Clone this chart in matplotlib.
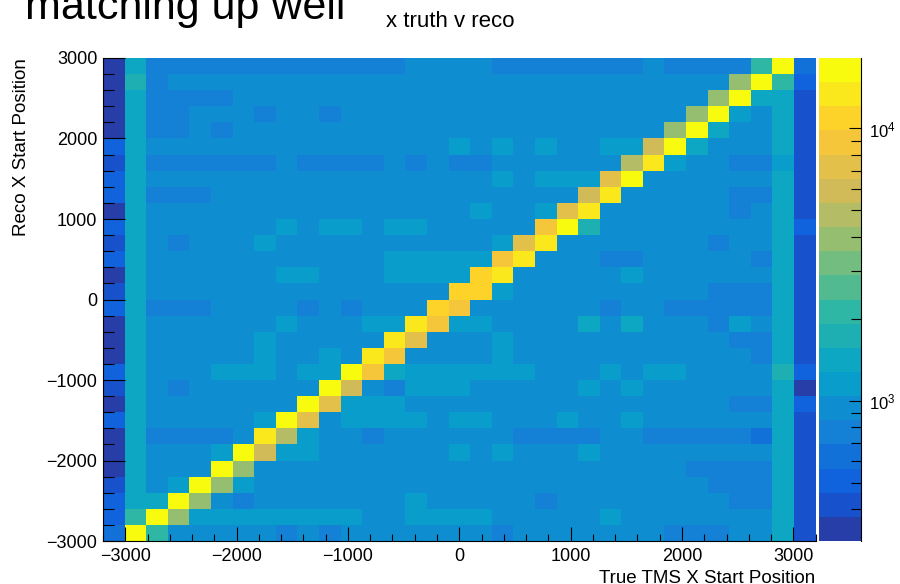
import matplotlib
matplotlib.use("Agg")
import matplotlib.pyplot as plt
import numpy as np
from matplotlib.colors import LinearSegmentedColormap, ListedColormap, LogNorm
from matplotlib.ticker import LogLocator, MultipleLocator, NullFormatter


# histogram binning: true x along the columns, reco x along the rows
X_RANGE = (-3200, 3200)
N_X_BINS = 33
Y_RANGE = (-3000, 3000)
N_Y_BINS = 30

Z_RANGE = (306, 18140)
N_CONTOURS = 20

X_TICKS = [-3000, -2000, -1000, 0, 1000, 2000, 3000]
Y_TICKS = [-3000, -2000, -1000, 0, 1000, 2000, 3000]

# entries per bin, rows from reco x = +3000 down to -3000,
# each row holds the 33 true-x bins from -3200 to +3200
COUNTS = [
    [340, 1420, 770, 770, 770, 770, 770, 770, 770, 770, 770,
     770, 770, 770, 940, 940, 940, 940, 770, 770, 770, 770,
     770, 770, 770, 940, 770, 770, 770, 770, 2140, 16600, 630],
    [340, 1740, 770, 940, 940, 940, 940, 940, 940, 940, 940,
     940, 940, 940, 940, 940, 940, 940, 940, 940, 940, 940,
     940, 940, 940, 940, 940, 940, 940, 3960, 16600, 2140, 510],
    [340, 1420, 770, 770, 770, 770, 940, 940, 940, 940, 940,
     940, 940, 940, 940, 940, 940, 940, 940, 940, 940, 940,
     940, 940, 940, 940, 940, 940, 3960, 16600, 1420, 1420, 420],
    [340, 1420, 770, 770, 940, 940, 940, 770, 940, 940, 770,
     940, 940, 940, 940, 940, 940, 940, 940, 940, 940, 940,
     940, 940, 940, 940, 940, 3960, 16600, 1160, 940, 1420, 420],
    [340, 1420, 770, 770, 940, 770, 940, 940, 940, 940, 940,
     940, 940, 940, 940, 940, 940, 940, 940, 940, 940, 940,
     940, 940, 940, 940, 3960, 16600, 1420, 940, 940, 1420, 420],
    [510, 1420, 940, 940, 940, 940, 940, 940, 940, 940, 940,
     940, 940, 940, 940, 940, 1160, 940, 1160, 940, 1160, 940,
     940, 1160, 1160, 5960, 16600, 1420, 940, 940, 940, 1420, 420],
    [420, 1420, 770, 770, 770, 770, 770, 770, 940, 770, 770,
     770, 770, 940, 770, 940, 770, 770, 940, 940, 940, 940,
     940, 940, 4860, 13500, 1160, 940, 940, 770, 770, 1160, 420],
    [510, 1420, 940, 940, 940, 940, 940, 940, 940, 940, 940,
     940, 940, 940, 940, 940, 940, 940, 1160, 940, 1160, 1160,
     1160, 7320, 16600, 940, 940, 940, 940, 940, 940, 1420, 420],
    [510, 1420, 770, 770, 770, 940, 940, 940, 940, 940, 940,
     940, 940, 940, 940, 940, 940, 940, 940, 940, 940, 940,
     5960, 13500, 940, 940, 940, 940, 940, 770, 770, 1420, 420],
    [340, 1420, 940, 940, 940, 940, 940, 940, 940, 940, 940,
     940, 940, 940, 940, 940, 940, 1160, 940, 940, 1160, 7320,
     13500, 940, 940, 940, 940, 940, 940, 770, 940, 1420, 420],
    [510, 1420, 940, 940, 940, 940, 940, 940, 1160, 940, 1160,
     1160, 940, 1160, 1160, 940, 940, 940, 940, 940, 8980, 16600,
     1740, 940, 940, 940, 940, 940, 940, 940, 940, 1420, 510],
    [420, 1420, 940, 770, 940, 940, 940, 1160, 940, 940, 940,
     940, 940, 940, 940, 940, 940, 940, 1160, 7320, 13500, 940,
     940, 940, 940, 940, 940, 940, 770, 940, 940, 1420, 420],
    [510, 1420, 940, 940, 940, 940, 940, 940, 940, 940, 940,
     940, 940, 1160, 1160, 1160, 1160, 1160, 8980, 13500, 940, 940,
     940, 770, 770, 940, 940, 940, 940, 940, 770, 1420, 420],
    [340, 1420, 940, 940, 940, 940, 940, 940, 1160, 1160, 940,
     940, 940, 1160, 1160, 1160, 1160, 11000, 13500, 940, 940, 940,
     940, 940, 1160, 940, 940, 940, 940, 940, 940, 1420, 420],
    [420, 1420, 940, 940, 940, 940, 940, 940, 940, 940, 940,
     940, 940, 940, 940, 940, 11000, 11000, 1160, 940, 940, 940,
     940, 940, 940, 940, 940, 940, 770, 770, 770, 1420, 420],
    [510, 1420, 770, 770, 770, 940, 940, 940, 940, 770, 940,
     770, 940, 940, 940, 11000, 8980, 940, 940, 940, 940, 940,
     940, 770, 940, 940, 770, 770, 770, 770, 770, 1420, 420],
    [340, 1420, 940, 940, 940, 940, 940, 940, 1160, 940, 940,
     940, 1160, 1160, 13500, 8980, 1160, 1160, 940, 940, 940, 940,
     1420, 940, 1420, 940, 940, 940, 770, 1160, 940, 1420, 420],
    [340, 1420, 940, 940, 940, 940, 940, 1160, 940, 940, 940,
     940, 940, 13500, 7320, 940, 940, 940, 1160, 940, 940, 940,
     940, 940, 940, 940, 940, 940, 940, 770, 770, 1420, 420],
    [340, 1420, 940, 940, 940, 940, 940, 1160, 940, 940, 1160,
     940, 13500, 8980, 940, 940, 940, 940, 1160, 940, 940, 940,
     940, 940, 940, 940, 940, 940, 940, 940, 770, 1420, 420],
    [510, 1420, 940, 940, 940, 1160, 1160, 1160, 940, 1160, 1160,
     16600, 8980, 1420, 1160, 1160, 1160, 1160, 1160, 1160, 940, 940,
     940, 1160, 940, 1160, 1160, 940, 940, 940, 940, 1740, 510],
    [420, 1420, 940, 770, 940, 940, 940, 940, 940, 940, 16600,
     5960, 940, 770, 1160, 1160, 1160, 940, 940, 940, 940, 940,
     1160, 940, 1160, 940, 940, 940, 940, 940, 940, 1420, 340],
    [340, 1420, 940, 940, 940, 940, 940, 940, 940, 16600, 7320,
     1160, 1160, 1160, 940, 940, 940, 940, 940, 940, 940, 940,
     940, 940, 940, 940, 940, 940, 940, 770, 770, 1420, 510],
    [510, 1420, 940, 940, 940, 940, 940, 1160, 16600, 7320, 940,
     1160, 1160, 1160, 1160, 940, 1160, 1160, 940, 940, 940, 1160,
     940, 940, 1160, 940, 940, 940, 940, 940, 940, 1420, 420],
    [340, 1420, 770, 770, 770, 770, 940, 13500, 4860, 1160, 940,
     940, 770, 940, 940, 940, 940, 940, 940, 770, 770, 770,
     770, 940, 940, 770, 770, 770, 770, 770, 630, 1420, 420],
    [340, 1420, 940, 940, 940, 1160, 16600, 5960, 1160, 1160, 940,
     940, 940, 940, 940, 940, 1160, 940, 1160, 940, 940, 940,
     1160, 940, 940, 940, 940, 940, 940, 940, 940, 1420, 420],
    [340, 1420, 940, 940, 940, 16600, 3960, 940, 940, 940, 940,
     940, 940, 940, 940, 940, 940, 940, 940, 940, 940, 940,
     940, 940, 940, 940, 940, 770, 770, 770, 770, 1420, 420],
    [420, 1420, 940, 1160, 16600, 3960, 1160, 940, 940, 940, 940,
     940, 940, 940, 940, 940, 940, 940, 940, 940, 940, 940,
     940, 940, 940, 940, 940, 940, 770, 770, 770, 1420, 420],
    [510, 1420, 1420, 16600, 3960, 940, 770, 940, 940, 940, 940,
     940, 940, 940, 1160, 940, 940, 940, 940, 940, 770, 940,
     940, 940, 940, 940, 940, 940, 940, 770, 770, 1420, 420],
    [510, 2140, 16600, 3960, 1160, 1160, 1160, 1160, 1160, 1160, 1160,
     1160, 940, 940, 1160, 1160, 1160, 1160, 940, 940, 940, 940,
     940, 1160, 940, 940, 940, 940, 940, 940, 940, 1420, 420],
    [630, 16600, 2140, 940, 940, 940, 940, 940, 770, 940, 770,
     940, 940, 940, 940, 940, 940, 940, 770, 940, 940, 940,
     940, 940, 940, 940, 770, 770, 770, 940, 940, 1420, 420],
]

# ROOT kBird palette
BIRD_STOPS = [0.0000, 0.1250, 0.2500, 0.3750, 0.5000, 0.6250, 0.7500, 0.8750, 1.0000]
BIRD_RED = [0.2082, 0.0592, 0.0780, 0.0232, 0.1802, 0.5301, 0.8186, 0.9956, 0.9764]
BIRD_GREEN = [0.1664, 0.3599, 0.5041, 0.6419, 0.7178, 0.7492, 0.7328, 0.7862, 0.9832]
BIRD_BLUE = [0.5293, 0.8684, 0.8385, 0.7914, 0.6425, 0.4662, 0.3499, 0.1968, 0.0539]


def bird_contours(n_levels):
    cdict = {
        "red": [(s, v, v) for s, v in zip(BIRD_STOPS, BIRD_RED)],
        "green": [(s, v, v) for s, v in zip(BIRD_STOPS, BIRD_GREEN)],
        "blue": [(s, v, v) for s, v in zip(BIRD_STOPS, BIRD_BLUE)],
    }
    base = LinearSegmentedColormap("bird", cdict, N=255)
    # one palette colour per contour band, picked the way THistPainter does
    picks = [min(int((i + 0.99) * 255 / n_levels), 254) for i in range(n_levels)]
    return ListedColormap([base(k) for k in picks])


def main() -> None:
    plt.rcParams["font.family"] = ["Liberation Sans", "DejaVu Sans"]
    plt.rcParams["mathtext.default"] = "regular"

    z = np.flipud(np.array(COUNTS, dtype=float))
    assert z.shape == (N_Y_BINS, N_X_BINS)
    x_edges = np.linspace(X_RANGE[0], X_RANGE[1], N_X_BINS + 1)
    y_edges = np.linspace(Y_RANGE[0], Y_RANGE[1], N_Y_BINS + 1)

    fig = plt.figure(figsize=(9, 5.84), dpi=100)
    ax = fig.add_axes([0.1144, 0.0736, 0.7919, 0.8271])
    cax = fig.add_axes([0.91, 0.0736, 0.0463, 0.8271])

    mesh = ax.pcolormesh(
        x_edges, y_edges, z,
        cmap=bird_contours(N_CONTOURS),
        norm=LogNorm(vmin=Z_RANGE[0], vmax=Z_RANGE[1]),
        shading="flat",
    )
    ax.set_xlim(*X_RANGE)
    ax.set_ylim(*Y_RANGE)
    ax.set_axisbelow(False)

    for side in ("top", "right"):
        ax.spines[side].set_visible(False)
    for side in ("left", "bottom"):
        ax.spines[side].set_linewidth(0.8)

    ax.set_xticks(X_TICKS)
    ax.set_yticks(Y_TICKS)
    ax.xaxis.set_minor_locator(MultipleLocator(200))
    ax.yaxis.set_minor_locator(MultipleLocator(200))
    ax.tick_params(axis="x", which="major", direction="in", length=10, width=0.8,
                   labelsize=13, pad=5)
    ax.tick_params(axis="x", which="minor", direction="in", length=5, width=0.8)
    ax.tick_params(axis="y", which="major", direction="in", length=16, width=0.8,
                   labelsize=13, pad=4)
    ax.tick_params(axis="y", which="minor", direction="in", length=8, width=0.8)

    ax.set_xlabel("True TMS X Start Position", fontsize=13.5, loc="right")
    ax.xaxis.set_label_coords(1.0, -0.087)
    ax.xaxis.label.set_va("baseline")
    ax.set_ylabel("Reco X Start Position", fontsize=13.5, loc="top")
    ax.yaxis.set_label_coords(-0.114, 1.0)
    ax.yaxis.label.set_va("center")

    cbar = fig.colorbar(mesh, cax=cax)
    cbar.outline.set_visible(False)
    cax.yaxis.set_ticks_position("right")
    cax.yaxis.set_minor_locator(LogLocator(base=10, subs=np.arange(2, 10)))
    cax.yaxis.set_minor_formatter(NullFormatter())
    cax.tick_params(which="major", direction="in", length=8.5, width=0.8,
                    labelsize=12, pad=6)
    cax.tick_params(which="minor", direction="in", length=7, width=0.8)
    cax.plot([1, 1], [0, 1], transform=cax.transAxes, color="black", lw=0.8,
             clip_on=False)

    fig.text(0.5, 1 - 27 / 584, "x truth v reco", ha="center", va="baseline",
             fontsize=16)
    fig.text(25 / 900, 1 - 19 / 584, "matching up well", ha="left", va="baseline",
             fontsize=31)

    fig.savefig("out.png", dpi=100)
    plt.close(fig)


if __name__ == "__main__":
    main()
